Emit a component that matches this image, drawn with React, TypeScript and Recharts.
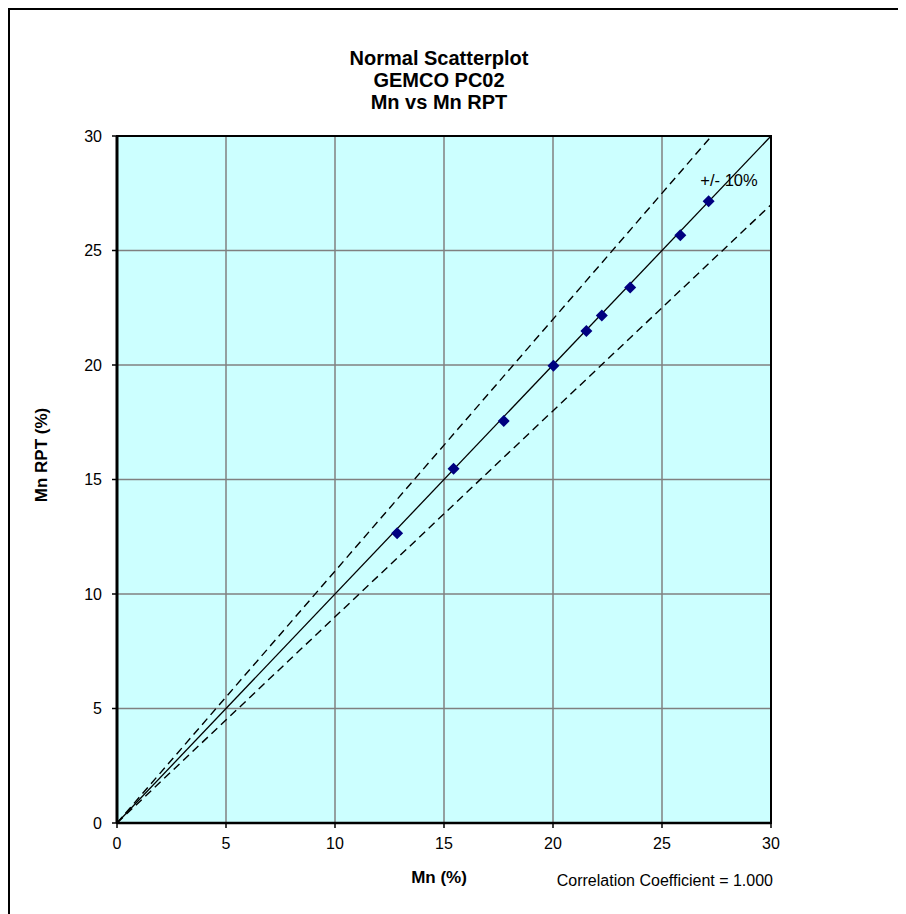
import React from "react";
import {
  ScatterChart,
  Scatter,
  XAxis,
  YAxis,
  CartesianGrid,
  ReferenceLine,
  ReferenceArea,
} from "recharts";

const titleLines = ["Normal Scatterplot", "GEMCO PC02", "Mn vs Mn RPT"];
const mnValues = [12.85, 15.44, 17.74, 20.02, 21.53, 22.24, 23.54, 25.84, 27.14];
const mnRptValues = [12.65, 15.47, 17.56, 19.97, 21.48, 22.16, 23.38, 25.67, 27.15];
const axisTicks = [0, 5, 10, 15, 20, 25, 30];
const axisMax = 30;
const toleranceFactors = [1.1, 0.9];
const toleranceLabel = "+/- 10%";
const correlationText = "Correlation Coefficient = 1.000";

const FONT = "'Liberation Sans', Arial, sans-serif";

const points = mnValues.map((x, i) => ({ x, y: mnRptValues[i] }));

// segment from origin until it leaves the square plot
const bandSegment = (f: number) => {
  const xEnd = f > 1 ? axisMax / f : axisMax;
  return [
    { x: 0, y: 0 },
    { x: xEnd, y: xEnd * f },
  ];
};

// @ts-ignore
const Diamond = ({ cx, cy }) => {
  const r = 6;
  return (
    <polygon
      points={`${cx},${cy - r} ${cx + r},${cy} ${cx},${cy + r} ${cx - r},${cy}`}
      fill="#000080"
    />
  );
};

const tickStyle = { fill: "#000", fontSize: 16, fontFamily: FONT };

const App = () => {
  return (
    <div
      style={{
        width: 898,
        height: 906,
        borderLeft: "2px solid #000",
        borderTop: "2px solid #000",
        boxSizing: "border-box",
        overflow: "hidden",
        background: "#fff",
      }}
    >
      <ScatterChart
        width={896}
        height={904}
        margin={{ top: 126, right: 135, bottom: 51, left: 47 }}
      >
        <CartesianGrid
          stroke="#808080"
          strokeWidth={1.5}
          fill="#CCFFFF"
          fillOpacity={1}
          horizontalValues={axisTicks}
          verticalValues={axisTicks}
        />
        <XAxis
          type="number"
          dataKey="x"
          domain={[0, axisMax]}
          ticks={axisTicks}
          height={40}
          tickSize={5}
          tickMargin={10}
          tick={tickStyle}
          axisLine={{ stroke: "#000", strokeWidth: 2.5 }}
          tickLine={{ stroke: "#000", strokeWidth: 1.5 }}
          allowDataOverflow
        />
        <YAxis
          type="number"
          dataKey="y"
          domain={[0, axisMax]}
          ticks={axisTicks}
          width={60}
          tickSize={5}
          tickMargin={10}
          tick={tickStyle}
          axisLine={{ stroke: "#000", strokeWidth: 3 }}
          tickLine={{ stroke: "#000", strokeWidth: 1.5 }}
          allowDataOverflow
        />
        <ReferenceArea
          x1={0}
          x2={axisMax}
          y1={0}
          y2={axisMax}
          fill="none"
          stroke="#000"
          strokeWidth={2}
          fillOpacity={0}
        />
        <ReferenceLine
          segment={[
            { x: 0, y: 0 },
            { x: axisMax, y: axisMax },
          ]}
          stroke="#000"
          strokeWidth={1.3}
        />
        {toleranceFactors.map((f) => (
          <ReferenceLine
            key={f}
            segment={bandSegment(f)}
            stroke="#000"
            strokeWidth={1.4}
            strokeDasharray="8 5"
          />
        ))}
        <Scatter
          data={points}
          // @ts-ignore
          shape={<Diamond />}
          isAnimationActive={false}
        />
        {titleLines.map((t, i) => (
          <text
            key={t}
            x={429}
            y={54.5 + i * 22}
            textAnchor="middle"
            fontFamily={FONT}
            fontWeight="bold"
            fontSize={20}
            fill="#000"
          >
            {t}
          </text>
        ))}
        <text
          x={719}
          y={176}
          textAnchor="middle"
          fontFamily={FONT}
          fontSize={16.5}
          fill="#000"
        >
          {toleranceLabel}
        </text>
        <text
          x={429}
          y={873}
          textAnchor="middle"
          fontFamily={FONT}
          fontWeight="bold"
          fontSize={17}
          fill="#000"
        >
          Mn (%)
        </text>
        <text
          x={763}
          y={876}
          textAnchor="end"
          fontFamily={FONT}
          fontSize={16}
          fill="#000"
        >
          {correlationText}
        </text>
        <text
          x={31.5}
          y={445}
          dy="0.35em"
          textAnchor="middle"
          transform="rotate(-90, 31.5, 445)"
          fontFamily={FONT}
          fontWeight="bold"
          fontSize={17}
          fill="#000"
        >
          Mn RPT (%)
        </text>
      </ScatterChart>
    </div>
  );
};

export default App;
